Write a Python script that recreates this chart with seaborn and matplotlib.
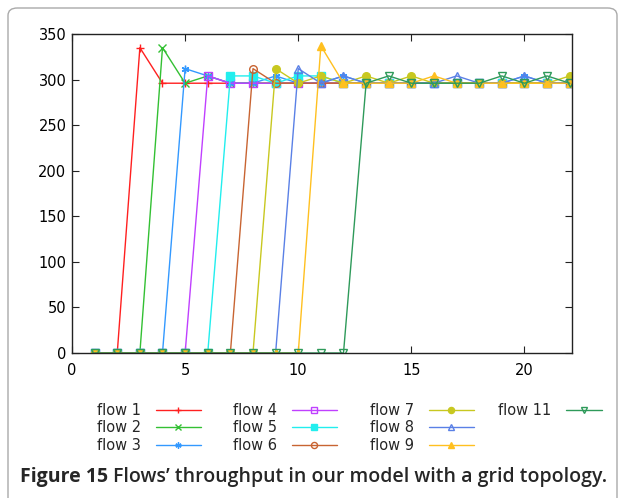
import matplotlib
matplotlib.use("Agg")
import matplotlib.pyplot as plt
import seaborn as sns
import numpy as np
import pandas as pd
from matplotlib.patches import FancyBboxPatch

sns.set_theme(style="white")
plt.rcParams['font.family'] = ['DejaVu Sans']

x = list(range(1, 23))
flow1 = [0, 0, 335] + [296] * 19
flow2 = [0, 0, 0, 335, 296, 304, 296] + [296] * 15
flow3 = [0, 0, 0, 0, 312, 304, 296, 296, 304, 296, 296, 304, 296, 296, 296, 296, 296, 296, 296, 304, 296, 296]
flow4 = [0] * 5 + [304] + [296] * 16
flow5 = [0] * 6 + [304, 304, 296, 304, 304, 296] + [296] * 10
flow6 = [0] * 7 + [312] + [296] * 14
flow7 = [0] * 8 + [312, 296, 304, 296, 304, 296, 304, 296, 296, 296, 296, 296, 296, 304]
flow8 = [0] * 9 + [312, 296, 304, 296, 296, 296, 296, 304, 296, 296, 304, 296, 296]
flow9 = [0] * 10 + [337, 296, 296, 296, 296, 304, 296, 296, 296, 296, 296, 296]
flow11 = [0] * 12 + [296, 304, 296, 296, 296, 296, 304, 296, 304, 296]

labels = ["flow 1", "flow 2", "flow 3", "flow 4", "flow 5", "flow 6",
          "flow 7", "flow 8", "flow 9", "flow 11"]
series = [flow1, flow2, flow3, flow4, flow5, flow6, flow7, flow8, flow9, flow11]
colors = ["#ff2020", "#33c033", "#3399ff", "#c040ff", "#22eeee", "#c86432",
          "#c8c820", "#5a80e6", "#ffc020", "#2e9a5a"]
markers = ["+", "x", (6, 2, 0), "s", "s", "o", "o", "^", "^", "v"]
filled = [True, True, True, False, True, False, True, False, True, False]

xticks = [0, 5, 10, 15, 20]
yticks = [0, 50, 100, 150, 200, 250, 300, 350]

W, H = 624, 498
fig = plt.figure(figsize=(W / 100, H / 100), dpi=100)
ax = fig.add_axes([72 / W, 1 - 353 / H, 500 / W, 319 / H])

for lab, vals, c, m, f in zip(labels, series, colors, markers, filled):
    assert len(vals) == len(x)
    df = pd.DataFrame({"x": x, "y": vals})
    sns.lineplot(data=df, x="x", y="y", ax=ax, color=c, marker=m,
                 markersize=5.5, linewidth=1.0, label=lab,
                 markerfacecolor=(c if f else "none"), markeredgecolor=c,
                 markeredgewidth=1.0)

ax.set_xlim(0, 22.1)
ax.set_ylim(0, 350)
ax.set_xticks(xticks)
ax.set_yticks(yticks)
ax.set_xlabel("")
ax.set_ylabel("")
ax.tick_params(direction="in", length=5, width=0.8, labelsize=10.5,
               top=True, right=True, bottom=True, left=True, colors="#222222",
               labelcolor="black")
for s in ax.spines.values():
    s.set_color("#222222")
    s.set_linewidth(1.0)
ax.tick_params(axis="x", pad=7)
ax.tick_params(axis="y", pad=4)

handles, labs = ax.get_legend_handles_labels()
if ax.get_legend():
    ax.get_legend().remove()

groups = [(0, 3, 97, 3.1), (3, 6, 233, 3.1), (6, 9, 370, 3.1), (9, 10, 498, 2.5)]
for i0, i1, xl, hl in groups:
    fig.legend(handles[i0:i1], labs[i0:i1], markerfirst=False, frameon=False,
               loc="upper left", bbox_to_anchor=(xl / W, 1 - 403 / H),
               fontsize=10.5, handlelength=hl, handletextpad=1.0,
               labelspacing=0.17, borderpad=0, borderaxespad=0,
               markerscale=0.8)

# figure border
border = FancyBboxPatch((8 / W, -0.05), 609 / W, 1 - 8 / H + 0.05,
                        boxstyle="round,pad=0,rounding_size=0.015",
                        transform=fig.transFigure, fill=False,
                        edgecolor="#aaaaaa", linewidth=1.0)
fig.patches.append(border)

t1 = fig.text(20 / W, 1 - 477 / H, "Figure 15", fontsize=14,
              fontweight="bold", family=["Open Sans", "DejaVu Sans"],
              va="center", ha="left")
fig.canvas.draw()
bb = t1.get_window_extent(renderer=fig.canvas.get_renderer())
fig.text((bb.x1 + 5) / W, 1 - 477 / H, "Flows\u2019 throughput in our model with a grid topology.",
         fontsize=14, fontweight="semibold", family=["Open Sans", "DejaVu Sans"],
         va="center", ha="left")

fig.savefig("out.png", dpi=100)
